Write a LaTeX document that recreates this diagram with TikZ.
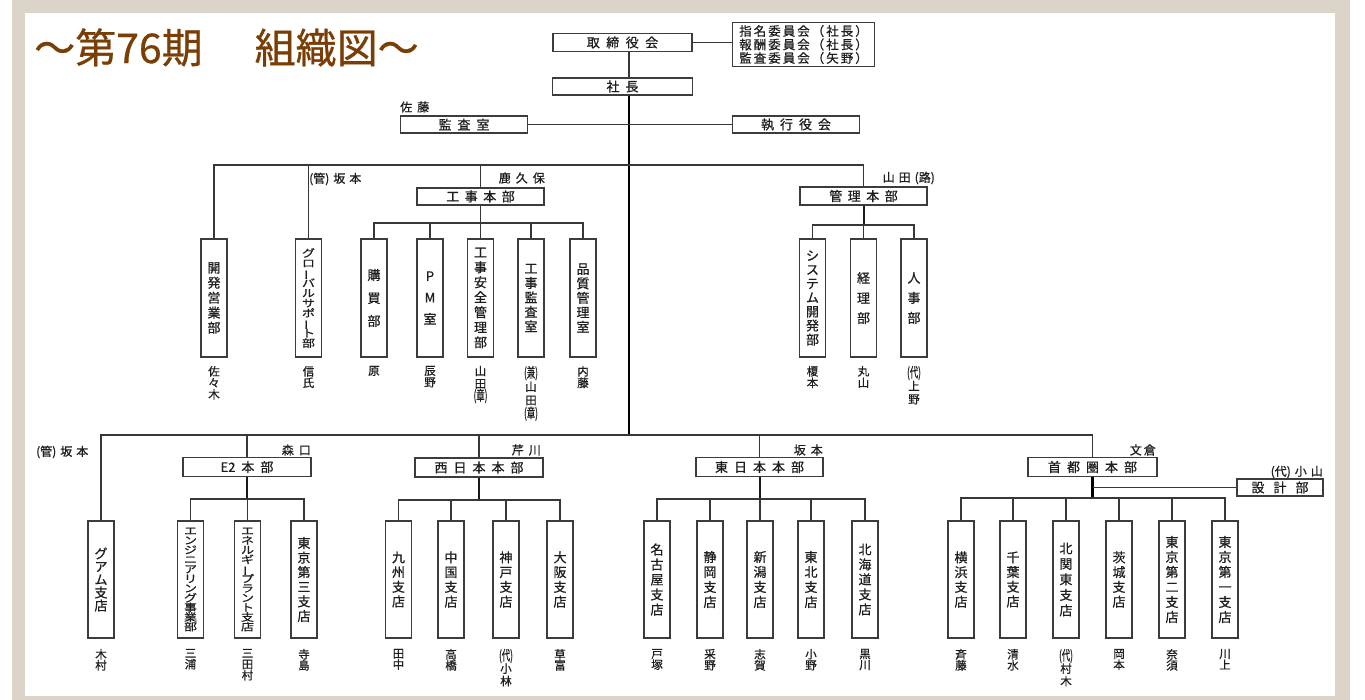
\documentclass[tikz,border=0pt]{standalone}
\usepackage{fontspec}
\setmainfont{Noto Sans CJK JP}[FakeBold=0.7]
\usepackage{graphicx}
\definecolor{framec}{RGB}{221,212,201}
\definecolor{titlec}{RGB}{122,62,4}
\definecolor{txt}{RGB}{30,30,30}
\definecolor{linec}{RGB}{55,55,55}
\definecolor{boxc}{RGB}{60,60,60}
\makeatletter
\def\vt@endmark{\vt@end}
\newcommand\vt[4][1]{\vbox{\fontsize{#2}{#3}\selectfont\lineskiplimit=-\maxdimen\def\vt@do{\scalebox{1}[#1]}\vt@loop#4\vt@end}}
\def\vt@loop#1{\def\vt@tmp{#1}\ifx\vt@tmp\vt@endmark\else\hbox to 2em{\hss\vt@do{#1}\hss}\expandafter\vt@loop\fi}
\newcommand\hs[2]{\def\hs@gap{#1}\hs@first#2\vt@end}
\def\hs@first#1{#1\hs@loop}
\def\hs@loop#1{\def\vt@tmp{#1}\ifx\vt@tmp\vt@endmark\else\hskip\hs@gap\relax#1\expandafter\hs@loop\fi}
\makeatother
\newcommand\vb{\rotatebox[origin=c]{90}{ー}}
\newcommand\pc[1]{\scalebox{0.72}[1.2]{(#1)}}
\begin{document}
\begin{tikzpicture}[x=1pt,y=-1pt,
  box/.style={draw=boxc,line width=1.6pt,fill=white,inner sep=0pt,text=txt},
  hb/.style={box,font=\fontsize{13}{14}\selectfont},
  tb/.style={box,minimum width=26pt,minimum height=118pt},
  bb/.style={box,minimum width=26pt,minimum height=117pt},
  lbl/.style={inner sep=0pt,text=txt,font=\fontsize{12}{13}\selectfont},
  nm/.style={inner sep=0pt,text=txt,anchor=north},
  ln/.style={draw=linec,line width=1.5pt},
  trunk/.style={draw=black,line width=2.4pt},
  sub/.style={draw=black!90,line width=2pt}]
\useasboundingbox (0,0) rectangle (1365,700);
\fill[white] (0,0) rectangle (1365,700);
\fill[framec] (12,0) rectangle (1350,700);
\fill[white] (25,13) rectangle (1335,696);
% title
\node[anchor=west,inner sep=0pt,text=titlec,font=\fontsize{41}{44}\selectfont] (title) at (34,47.5) {〜第76期\hspace{52pt}組織図〜};
% top
\node[hb,minimum width=139pt,minimum height=18pt] (torishimari) at (622.5,42.5) {\hs{6.5pt}{取締役会}};
\node[box,minimum width=142pt,minimum height=44pt,align=center,font=\fontsize{12.5}{13.5}\selectfont] (iinkai) at (803.5,44.5) {\hs{2pt}{指名委員会（社長）}\\\hs{2pt}{報酬委員会（社長）}\\\hs{2pt}{監査委員会（矢野）}};
\node[hb,minimum width=140pt,minimum height=17pt] (shacho) at (622.5,86.5) {\hs{6pt}{社長}};
\node[hb,minimum width=127pt,minimum height=17pt] (kansa) at (464,124.5) {\hs{6pt}{監査室}};
\node[hb,minimum width=127pt,minimum height=17pt] (shikko) at (796,124.5) {\hs{6pt}{執行役会}};
\node[lbl,anchor=west] (lsato) at (400,107) {\hs{5pt}{佐藤}};
% upper departments
\node[hb,minimum width=127pt,minimum height=17pt] (kouji) at (480.5,196.5) {\hs{5.5pt}{工事本部}};
\node[hb,minimum width=127pt,minimum height=18pt] (kanri) at (863.5,196) {\hs{5.5pt}{管理本部}};
\node[lbl,anchor=east] (lkaku) at (545,178) {\hs{5pt}{鹿久保}};
\node[lbl,anchor=east] (lyamaro) at (935,178) {\hs{4pt}{山田{(路)}}};
\node[lbl,anchor=west] (lsaka1) at (309,179) {\hs{4pt}{{(管)}坂本}};
\node[tb] (kaihatsu) at (214,298) {\vt{13}{15}{開発営業部}};
\node[tb] (global) at (308.5,298) {\vt[0.8]{13}{10}{グロ\vb バルサポ\vb ト部}};
\node[tb] (kobai) at (374,298) {\vt{13}{23}{購買部}};
\node[tb] (pm) at (430,298) {\vt{13}{21.5}{PM室}};
\node[tb] (anzen) at (480.5,298) {\vt{13}{15}{工事安全管理部}};
\node[tb] (kkansa) at (531,298) {\vt{13}{14.5}{工事監査室}};
\node[tb] (hinshitsu) at (583,298) {\vt{13}{14.5}{品質管理室}};
\node[tb] (system) at (812.5,298) {\vt{13}{14}{システム開発部}};
\node[tb] (keiri) at (863.5,298) {\vt{13}{20}{経理部}};
\node[tb] (jinji) at (914,298) {\vt{13}{20}{人事部}};
\node[nm] (n1) at ([yshift=-8pt]kaihatsu.south) {\vt{11.5}{11.5}{佐々木}};
\node[nm] (n2) at ([yshift=-8pt]global.south) {\vt{11.5}{11.5}{信氏}};
\node[nm] (n3) at ([yshift=-8pt]kobai.south) {\vt{11.5}{11.5}{原}};
\node[nm] (n4) at ([yshift=-8pt]pm.south) {\vt{11.5}{11.5}{辰野}};
\node[nm] (n5) at ([yshift=-8pt]anzen.south) {\vt{11.5}{12.5}{山田{\pc{章}}}};
\node[nm] (n6) at ([yshift=-8pt]kkansa.south) {\vt{11.5}{13.5}{{\pc{兼}}山田{\pc{章}}}};
\node[nm] (n7) at ([yshift=-8pt]hinshitsu.south) {\vt{11.5}{11.5}{内藤}};
\node[nm] (n8) at ([yshift=-8pt]system.south) {\vt{11.5}{11.5}{榎本}};
\node[nm] (n9) at ([yshift=-8pt]keiri.south) {\vt{11.5}{11.5}{丸山}};
\node[nm] (n10) at ([yshift=-8pt]jinji.south) {\vt{11.5}{13}{{\pc{代}}上野}};
% lower headquarters
\node[hb,minimum width=128pt,minimum height=19pt] (e2) at (247,467) {\hs{6pt}{{E2}本部}};
\node[hb,minimum width=128pt,minimum height=19pt] (nishi) at (479,467.5) {\hs{6pt}{西日本本部}};
\node[hb,minimum width=127pt,minimum height=19pt] (higashi) at (759.5,467) {\hs{6pt}{東日本本部}};
\node[hb,minimum width=129pt,minimum height=19pt] (shuto) at (1092.5,467) {\hs{6pt}{首都圏本部}};
\node[hb,minimum width=86pt,minimum height=17pt] (sekkei) at (1280,487.5) {\hs{9pt}{設計部}};
\node[lbl,anchor=west] (lsaka2) at (36,452) {\hs{4pt}{{(管)}坂本}};
\node[lbl,anchor=east] (lmori) at (311,450) {\hs{5pt}{森口}};
\node[lbl,anchor=east] (lseri) at (541,450) {\hs{5pt}{芹川}};
\node[lbl,anchor=east] (lsaka3) at (823,450) {\hs{5pt}{坂本}};
\node[lbl,anchor=east] (lbun) at (1156,450) {\hs{2pt}{文倉}};
\node[lbl,anchor=east] (lkoya) at (1323,472) {\hs{4pt}{{(代)}小山}};
% branches
\node[bb] (guam) at (101,579.5) {\vt{13}{13}{グアム支店}};
\node[bb] (enji) at (190.5,579.5) {\vt[0.8]{13}{9.6}{エンジニアリング事業部}};
\node[bb] (enerugi) at (247.5,579.5) {\vt[0.8]{13}{9.6}{エネルギ\vb プラント支店}};
\node[bb] (tokyo3) at (304,579.5) {\vt{13}{14.6}{東京第三支店}};
\node[bb] (kyushu) at (398.5,579.5) {\vt{13}{14.7}{九州支店}};
\node[bb] (chugoku) at (451,579.5) {\vt{13}{14.7}{中国支店}};
\node[bb] (kobe) at (506,579.5) {\vt{13}{14.7}{神戸支店}};
\node[bb] (osaka) at (560,579.5) {\vt{13}{14.7}{大阪支店}};
\node[bb] (nagoya) at (657,579.5) {\vt{13}{15}{名古屋支店}};
\node[bb] (shizuoka) at (710,579.5) {\vt{13}{15}{静岡支店}};
\node[bb] (niigata) at (760,579.5) {\vt{13}{15}{新潟支店}};
\node[bb] (tohoku) at (811,579.5) {\vt{13}{15}{東北支店}};
\node[bb] (hokkaido) at (865,579.5) {\vt{13}{15}{北海道支店}};
\node[bb] (yokohama) at (961,579.5) {\vt{13}{14.7}{横浜支店}};
\node[bb] (chiba) at (1013,579.5) {\vt{13}{14.7}{千葉支店}};
\node[bb] (kitakanto) at (1066,579.5) {\vt{13}{15.5}{北関東支店}};
\node[bb] (ibaraki) at (1119,579.5) {\vt{13}{14.7}{茨城支店}};
\node[bb] (tokyo2) at (1172,579.5) {\vt{13}{15}{東京第二支店}};
\node[bb] (tokyo1) at (1225,579.5) {\vt{13}{15}{東京第一支店}};
\node[nm] (m1) at ([yshift=-10pt]guam.south) {\vt{11.5}{11}{木村}};
\node[nm] (m2) at ([yshift=-10pt]enji.south) {\vt{11.5}{11}{三浦}};
\node[nm] (m3) at ([yshift=-10pt]enerugi.south) {\vt{11.5}{11}{三田村}};
\node[nm] (m4) at ([yshift=-10pt]tokyo3.south) {\vt{11.5}{11}{寺島}};
\node[nm] (m5) at ([yshift=-10pt]kyushu.south) {\vt{11.5}{11}{田中}};
\node[nm] (m6) at ([yshift=-10pt]chugoku.south) {\vt{11.5}{11}{高橋}};
\node[nm] (m7) at ([yshift=-10pt]kobe.south) {\vt{11.5}{12.5}{{\pc{代}}小林}};
\node[nm] (m8) at ([yshift=-10pt]osaka.south) {\vt{11.5}{11}{草富}};
\node[nm] (m9) at ([yshift=-10pt]nagoya.south) {\vt{11.5}{11}{戸塚}};
\node[nm] (m10) at ([yshift=-10pt]shizuoka.south) {\vt{11.5}{11}{采野}};
\node[nm] (m11) at ([yshift=-10pt]niigata.south) {\vt{11.5}{11}{志賀}};
\node[nm] (m12) at ([yshift=-10pt]tohoku.south) {\vt{11.5}{11}{小野}};
\node[nm] (m13) at ([yshift=-10pt]hokkaido.south) {\vt{11.5}{11}{黒川}};
\node[nm] (m14) at ([yshift=-10pt]yokohama.south) {\vt{11.5}{11}{斉藤}};
\node[nm] (m15) at ([yshift=-10pt]chiba.south) {\vt{11.5}{11}{清水}};
\node[nm] (m16) at ([yshift=-10pt]kitakanto.south) {\vt{11.5}{12.5}{{\pc{代}}村木}};
\node[nm] (m17) at ([yshift=-10pt]ibaraki.south) {\vt{11.5}{11}{岡本}};
\node[nm] (m18) at ([yshift=-10pt]tokyo2.south) {\vt{11.5}{11}{奈須}};
\node[nm] (m19) at ([yshift=-10pt]tokyo1.south) {\vt{11.5}{11}{川上}};
% connectors
\coordinate (tx) at (629,0);
\coordinate (bl) at (629,435);
\coordinate (bu) at (629,165);
\draw[ln] (torishimari.east) -- (torishimari.east -| iinkai.west);
\draw[ln] (torishimari.south -| tx) -- (shacho.north -| tx);
\draw[trunk] (shacho.south -| tx) -- (bl);
\draw[ln] (kansa.east) -- (shikko.west);
\draw[ln] (kaihatsu.north) |- (bu) -| (kanri.north);
\draw[ln] (global.north) -- (global.north |- bu);
\draw[ln] (kouji.north) -- (kouji.north |- bu);
\coordinate (kb) at (480.5,223);
\draw[ln] (kouji.south) -- (kb);
\draw[ln] (kobai.north) |- (kb) -| (hinshitsu.north);
\draw[ln] (pm.north) -- (pm.north |- kb);
\draw[ln] (anzen.north) -- (kb);
\draw[ln] (kkansa.north) -- (kkansa.north |- kb);
\coordinate (mb) at (863.5,225);
\draw[sub] (kanri.south) -- (mb);
\draw[ln] (system.north) |- (mb) -| (jinji.north);
\draw[ln] (keiri.north) -- (mb);
\draw[ln] (guam.north) |- (bl) -| (shuto.north);
\draw[ln] (e2.north) -- (e2.north |- bl);
\draw[ln] (nishi.north) -- (nishi.north |- bl);
\draw[ln] (higashi.north) -- (higashi.north |- bl);
\coordinate (eb) at (247,499);
\draw[sub] (e2.south) -- (eb);
\draw[ln] (enji.north) |- (eb) -| (tokyo3.north);
\draw[ln] (enerugi.north) -- (enerugi.north |- eb);
\coordinate (wb) at (479,500);
\draw[sub] (nishi.south) -- (wb);
\draw[ln] (kyushu.north) |- (wb) -| (osaka.north);
\draw[ln] (chugoku.north) -- (chugoku.north |- wb);
\draw[ln] (kobe.north) -- (kobe.north |- wb);
\coordinate (hb) at (759.5,499);
\draw[sub] (higashi.south) -- (hb);
\draw[ln] (nagoya.north) |- (hb) -| (hokkaido.north);
\draw[ln] (shizuoka.north) -- (shizuoka.north |- hb);
\draw[ln] (niigata.north) -- (niigata.north |- hb);
\draw[ln] (tohoku.north) -- (tohoku.north |- hb);
\coordinate (sb) at (1092.5,498);
\draw[trunk] (shuto.south) -- (sb);
\draw[ln] (yokohama.north) |- (sb) -| (tokyo1.north);
\draw[ln] (chiba.north) -- (chiba.north |- sb);
\draw[ln] (kitakanto.north) -- (kitakanto.north |- sb);
\draw[ln] (ibaraki.north) -- (ibaraki.north |- sb);
\draw[ln] (tokyo2.north) -- (tokyo2.north |- sb);
\draw[ln] (shuto.south |- sekkei.west) -- (sekkei.west);
\end{tikzpicture}
\end{document}
